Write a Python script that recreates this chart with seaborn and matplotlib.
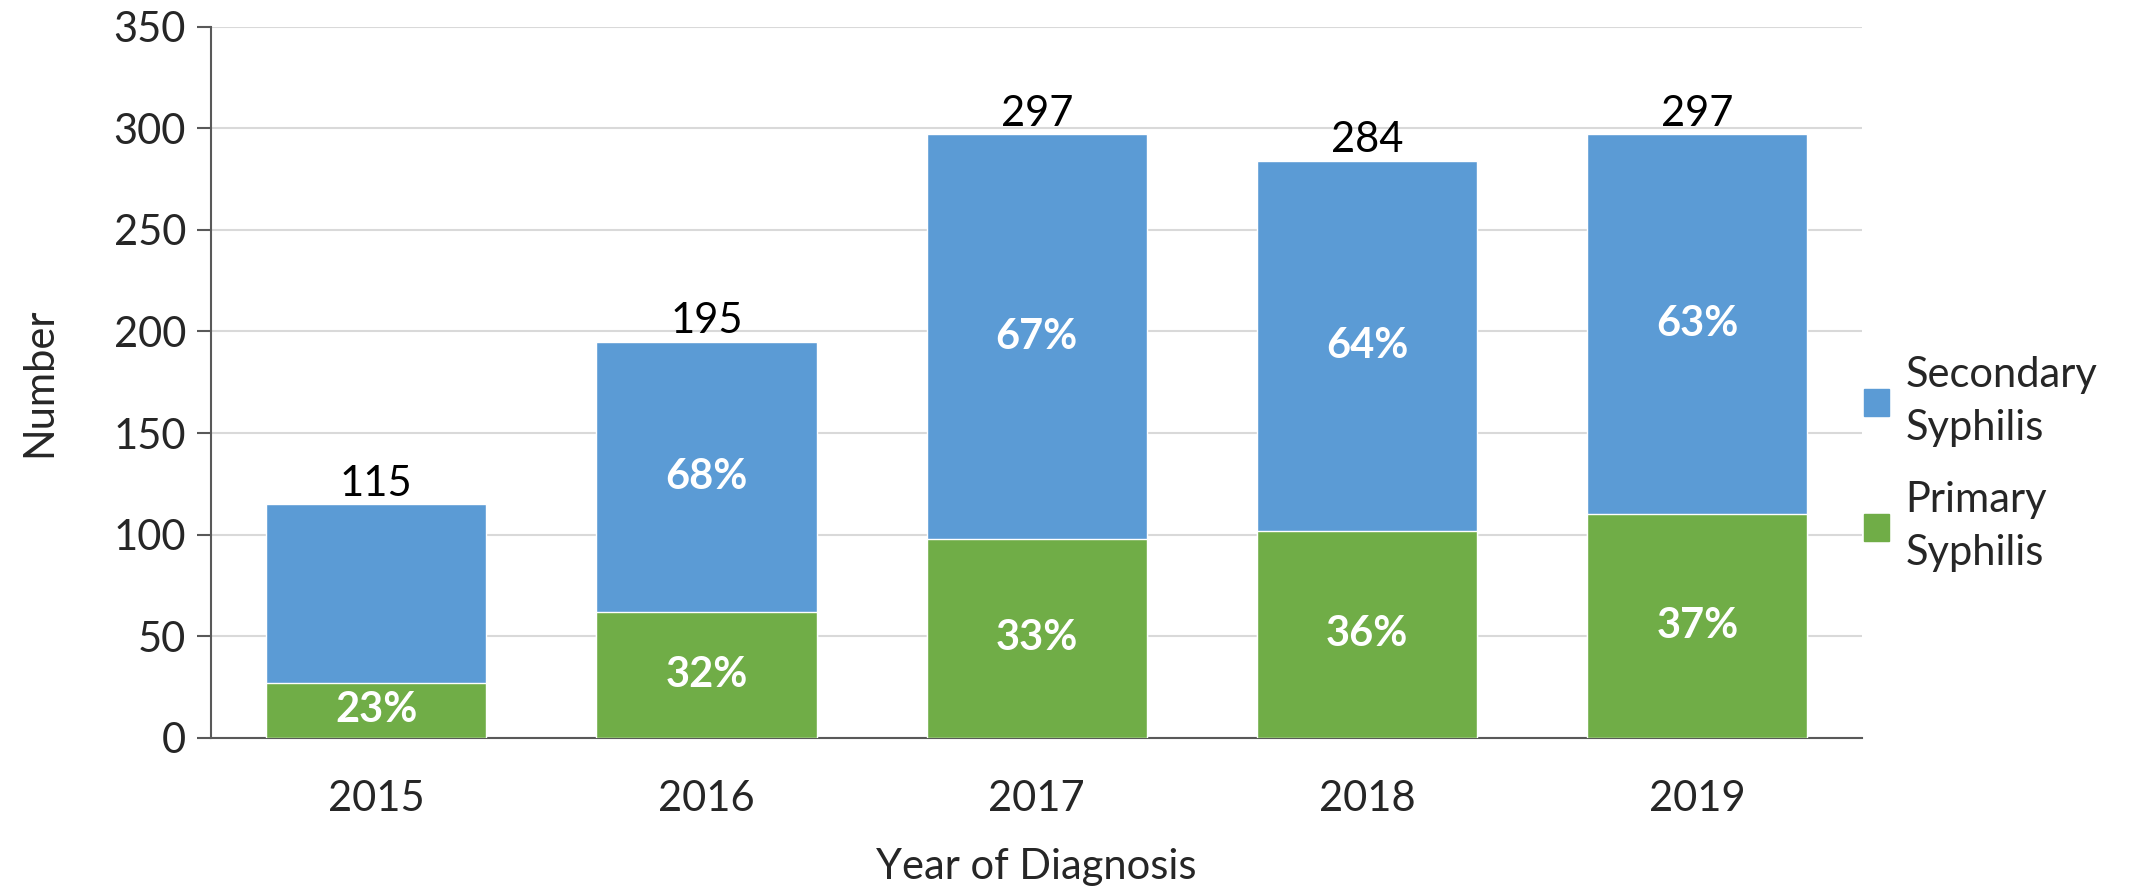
import matplotlib.pyplot as plt
import numpy as np
import pandas as pd
import seaborn as sns
from matplotlib.patches import Patch

years = ['2015', '2016', '2017', '2018', '2019']
total = [115, 195, 297, 284, 297]
primary = [27, 62, 98, 102, 110]
primary_pct = ['23%', '32%', '33%', '36%', '37%']
secondary_pct = ['', '68%', '67%', '64%', '63%']

blue = '#5B9BD5'
green = '#70AD47'

sns.set_theme(style='white')
plt.rcParams['font.family'] = ['Lato', 'DejaVu Sans']

df = pd.DataFrame({'year': years, 'total': total, 'primary': primary})

fig, ax = plt.subplots(figsize=(21.31, 8.89), dpi=100)
fig.subplots_adjust(left=0.099, right=0.874, top=0.97, bottom=0.17)

# blue is the full bar, green is drawn over the bottom part
sns.barplot(data=df, x='year', y='total', color=blue, saturation=1, width=0.667, ax=ax, zorder=2)
sns.barplot(data=df, x='year', y='primary', color=green, saturation=1, width=0.667, ax=ax, zorder=3)

bars_total = ax.containers[0]
ax.bar_label(bars_total, labels=[str(v) for v in total], padding=1, fontsize=30, color='black')

for i in range(len(years)):
    if secondary_pct[i]:
        ax.text(i, (primary[i] + total[i]) / 2, secondary_pct[i], ha='center', va='center',
                color='white', fontsize=30, weight='bold', zorder=5)
    ax.text(i, primary[i] / 2, primary_pct[i], ha='center', va='center',
            color='white', fontsize=30, weight='bold', zorder=5)

ax.set_ylim(0, 350)
ax.set_yticks(np.arange(0, 351, 50))
ax.yaxis.grid(True, color='#D9D9D9', linewidth=1.5, zorder=0)
ax.set_axisbelow(True)
ax.set_xlabel('Year of Diagnosis', fontsize=30, labelpad=22)
ax.set_ylabel('Number', fontsize=30, labelpad=40)
ax.tick_params(axis='y', labelsize=30, length=10, width=1.5, color='#595959', left=True, pad=8)
ax.tick_params(axis='x', labelsize=30, length=0, pad=30)

for s in ['top', 'right']:
    ax.spines[s].set_visible(False)
for s in ['left', 'bottom']:
    ax.spines[s].set_color('#595959')
    ax.spines[s].set_linewidth(1.5)

handles = [Patch(color=blue, label='Secondary\nSyphilis'), Patch(color=green, label='Primary\nSyphilis')]
leg = fig.legend(handles=handles, loc='center left', bbox_to_anchor=(0.857, 0.478), frameon=False,
                 fontsize=30, handlelength=0.6, handleheight=0.6, handletextpad=0.4, labelspacing=0.8)
for t in leg.get_texts():
    t.set_linespacing(1.5)

plt.savefig('out.png', dpi=100)
